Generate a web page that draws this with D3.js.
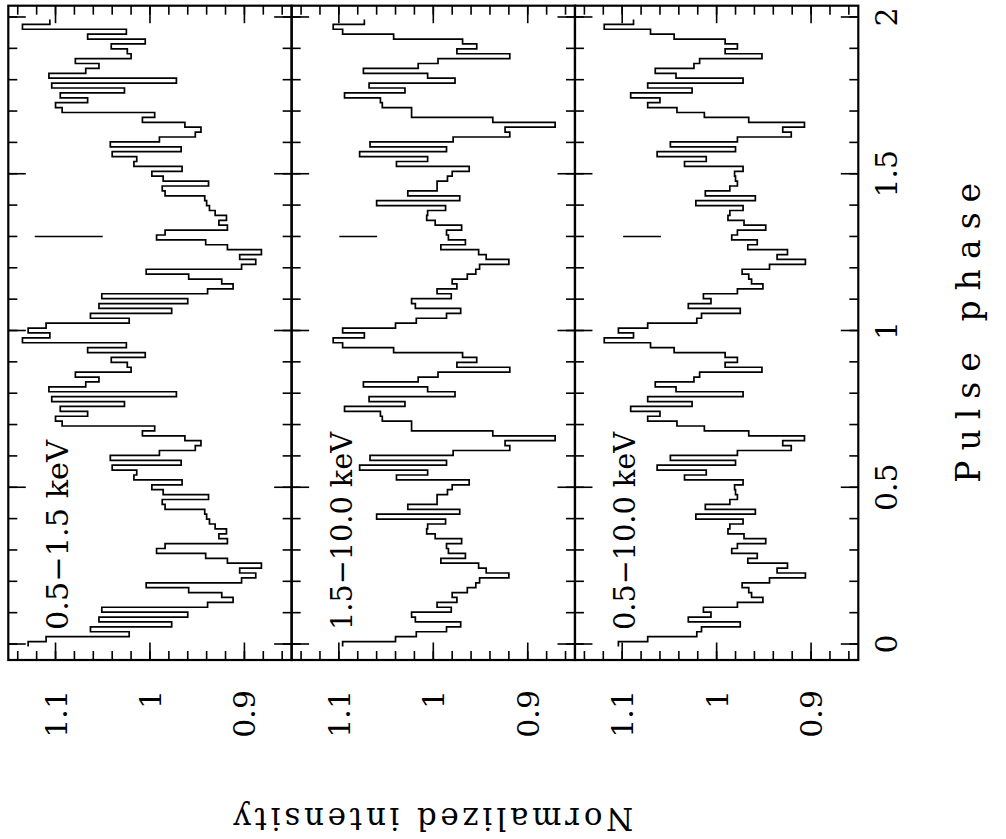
<!DOCTYPE html>
<html>
<head>
<meta charset="utf-8">
<script src="https://cdnjs.cloudflare.com/ajax/libs/d3/7.8.5/d3.min.js"></script>
<style>
  body { margin: 0; background: #fff; }
  svg text { font-family: "DejaVu Serif", serif; font-size: 30px; fill: #000; }
  .tick line { stroke: #000; stroke-width: 1.6; }
</style>
</head>
<body>
<div class="chart"></div>
<script>
// pulse profiles, 64 bins per cycle, plotted over two cycles
var bands = ['0.5\u22121.5 keV', '1.5\u221210.0 keV', '0.5\u221210.0 keV']
var soft = [1.129, 1.110, 1.022, 1.063, 0.977, 1.054, 0.960, 1.051, 0.939, 0.912,
  0.924, 0.959, 1.004, 0.903, 0.888, 0.905, 0.882, 0.918, 0.941, 0.993,
  0.984, 0.918, 0.927, 0.919, 0.931, 0.937, 0.940, 0.942, 0.984, 0.987,
  0.938, 0.986, 0.998, 0.966, 1.017, 1.014, 1.040, 0.967, 1.042, 0.990,
  0.952, 0.946, 0.963, 1.008, 0.995, 1.093, 1.100, 1.066, 1.095, 1.027,
  1.104, 0.972, 1.107, 1.068, 1.054, 1.079, 1.020, 1.024, 1.041, 1.005,
  1.066, 1.025, 1.135, 1.106]
var hard = [1.096, 1.040, 1.018, 0.986, 0.971, 1.019, 1.023, 0.981, 0.996, 0.975,
  0.980, 0.964, 0.955, 0.951, 0.920, 0.944, 0.952, 0.992, 0.966, 0.984,
  0.986, 0.970, 0.998, 1.007, 1.006, 0.987, 1.060, 0.972, 1.027, 0.996,
  0.996, 0.985, 0.980, 0.962, 1.039, 1.006, 1.078, 0.986, 1.067, 0.979,
  0.919, 0.924, 0.871, 0.937, 1.023, 1.023, 1.054, 1.056, 1.094, 1.030,
  1.068, 0.977, 1.006, 1.074, 1.016, 0.995, 0.919, 0.975, 0.954, 0.969,
  1.042, 1.096, 1.106, 1.073]
var total = [1.104, 1.073, 1.021, 1.016, 0.975, 1.030, 1.006, 1.014, 0.978, 0.951,
  0.963, 0.966, 0.973, 0.944, 0.906, 0.936, 0.925, 0.967, 0.957, 0.984,
  0.978, 0.948, 0.971, 0.988, 0.986, 0.972, 1.022, 0.959, 1.012, 0.986,
  0.978, 0.980, 0.981, 0.972, 1.034, 1.011, 1.063, 0.980, 1.049, 0.978,
  0.921, 0.930, 0.907, 0.966, 1.013, 1.042, 1.073, 1.060, 1.091, 1.026,
  1.073, 0.972, 1.043, 1.065, 1.024, 1.018, 0.952, 0.991, 0.978, 0.991,
  1.045, 1.070, 1.119, 1.088]
var profiles = [soft, hard, total]
var cycles = 2

// typical error bar drawn in each panel
var errPhase = 1.3
var errMid = [1.086, 1.0795, 1.079]
var errHalf = [0.036, 0.020, 0.020]

var phaseMajor = [0, 0.5, 1, 1.5, 2]
var phaseLabels = ['0', '0.5', '1', '1.5', '2']
var phaseMinor = [0, 0.1, 0.2, 0.3, 0.4, 0.5, 0.6, 0.7, 0.8, 0.9, 1,
  1.1, 1.2, 1.3, 1.4, 1.5, 1.6, 1.7, 1.8, 1.9, 2]
var intMajor = [1.1, 1, 0.9]
var intLabels = ['1.1', '1', '0.9']
var intMinor = [0.86, 0.88, 0.9, 0.92, 0.94, 0.96, 0.98, 1, 1.02, 1.04,
  1.06, 1.08, 1.1, 1.12, 1.14]

// the figure is drawn rotated: phase runs up the page, panels side by side
var W = 1006, H = 839
var frameL = 8.3, frameR = 858.3, frameT = 5.7, frameB = 660
var panelW = (frameR - frameL) / 3
var minorLen = 9, majorLen = 17.5

var svg = d3.select('.chart')
  .append('svg')
  .attr('width', W)
  .attr('height', H)

var y = d3.scaleLinear().domain([-0.051, 2.036]).range([frameB, frameT])

profiles.forEach(function(vals, p) {
  var x0 = frameL + p * panelW
  var x = d3.scaleLinear().domain([1.15, 0.85]).range([x0, x0 + panelW])
  var n = vals.length
  var pts = []
  for (var i = 0; i < n * cycles; i++) {
    var v = vals[i % n]
    pts.push({v: v, ph: (i - 0.5) / n})
    pts.push({v: v, ph: (i + 0.5) / n})
  }

  var g = svg.append('g')

  g.append('path')
    .datum(pts)
    .attr('fill', 'none')
    .attr('stroke', '#000')
    .attr('stroke-width', 1.7)
    .attr('d', d3.line().x(function(d) { return x(d.v) }).y(function(d) { return y(d.ph) }))

  g.append('line')
    .attr('x1', x(errMid[p] + errHalf[p]))
    .attr('x2', x(errMid[p] - errHalf[p]))
    .attr('y1', y(errPhase))
    .attr('y2', y(errPhase))
    .attr('stroke', '#000')
    .attr('stroke-width', 1.5)

  // ticks on all four edges, pointing inwards
  var axes = [
    [d3.axisRight(y), 'translate(' + x0 + ',0)', phaseMinor, phaseMajor],
    [d3.axisLeft(y), 'translate(' + (x0 + panelW) + ',0)', phaseMinor, phaseMajor],
    [d3.axisBottom(x), 'translate(0,' + frameT + ')', intMinor, intMajor],
    [d3.axisTop(x), 'translate(0,' + frameB + ')', intMinor, intMajor]
  ]
  axes.forEach(function(a) {
    [[a[2], minorLen], [a[3], majorLen]].forEach(function(t) {
      var ax = g.append('g')
        .attr('transform', a[1])
        .call(a[0].tickValues(t[0]).tickSize(t[1]).tickFormat('').offset(0))
      ax.select('.domain').remove()
    })
  })

  g.append('rect')
    .attr('x', x0)
    .attr('y', frameT)
    .attr('width', panelW)
    .attr('height', frameB - frameT)
    .attr('fill', 'none')
    .attr('stroke', '#000')
    .attr('stroke-width', 2.2)

  // intensity tick labels below the panel
  g.selectAll('.ilab')
    .data(intMajor)
    .enter().append('text')
    .attr('class', 'ilab')
    .attr('transform', function(d) { return 'translate(' + (x(d) + 11) + ',690) rotate(-90)' })
    .attr('text-anchor', 'end')
    .text(function(d, i) { return intLabels[i] })

  g.append('text')
    .attr('transform', 'translate(' + (x0 + 60) + ',630) rotate(-90)')
    .attr('text-anchor', 'start')
    .attr('textLength', p === 0 ? 190 : 198)
    .attr('lengthAdjust', 'spacingAndGlyphs')
    .text(bands[p])
})

svg.selectAll('.plab')
  .data(phaseMajor)
  .enter().append('text')
  .attr('class', 'plab')
  .attr('transform', function(d) { return 'translate(897,' + y(d) + ') rotate(-90)' })
  .attr('text-anchor', 'middle')
  .text(function(d, i) { return phaseLabels[i] })

svg.append('text')
  .attr('transform', 'translate(980,' + ((frameT + frameB) / 2) + ') rotate(-90)')
  .attr('text-anchor', 'middle')
  .attr('textLength', 300)
  .attr('lengthAdjust', 'spacing')
  .style('font-size', '33px')
  .text('Pulse phase')

svg.append('text')
  .attr('transform', 'translate(' + ((frameL + frameR) / 2) + ',808) rotate(180)')
  .attr('text-anchor', 'middle')
  .attr('textLength', 400)
  .attr('lengthAdjust', 'spacing')
  .style('font-size', '31px')
  .text('Normalized intensity')
</script>
</body>
</html>
